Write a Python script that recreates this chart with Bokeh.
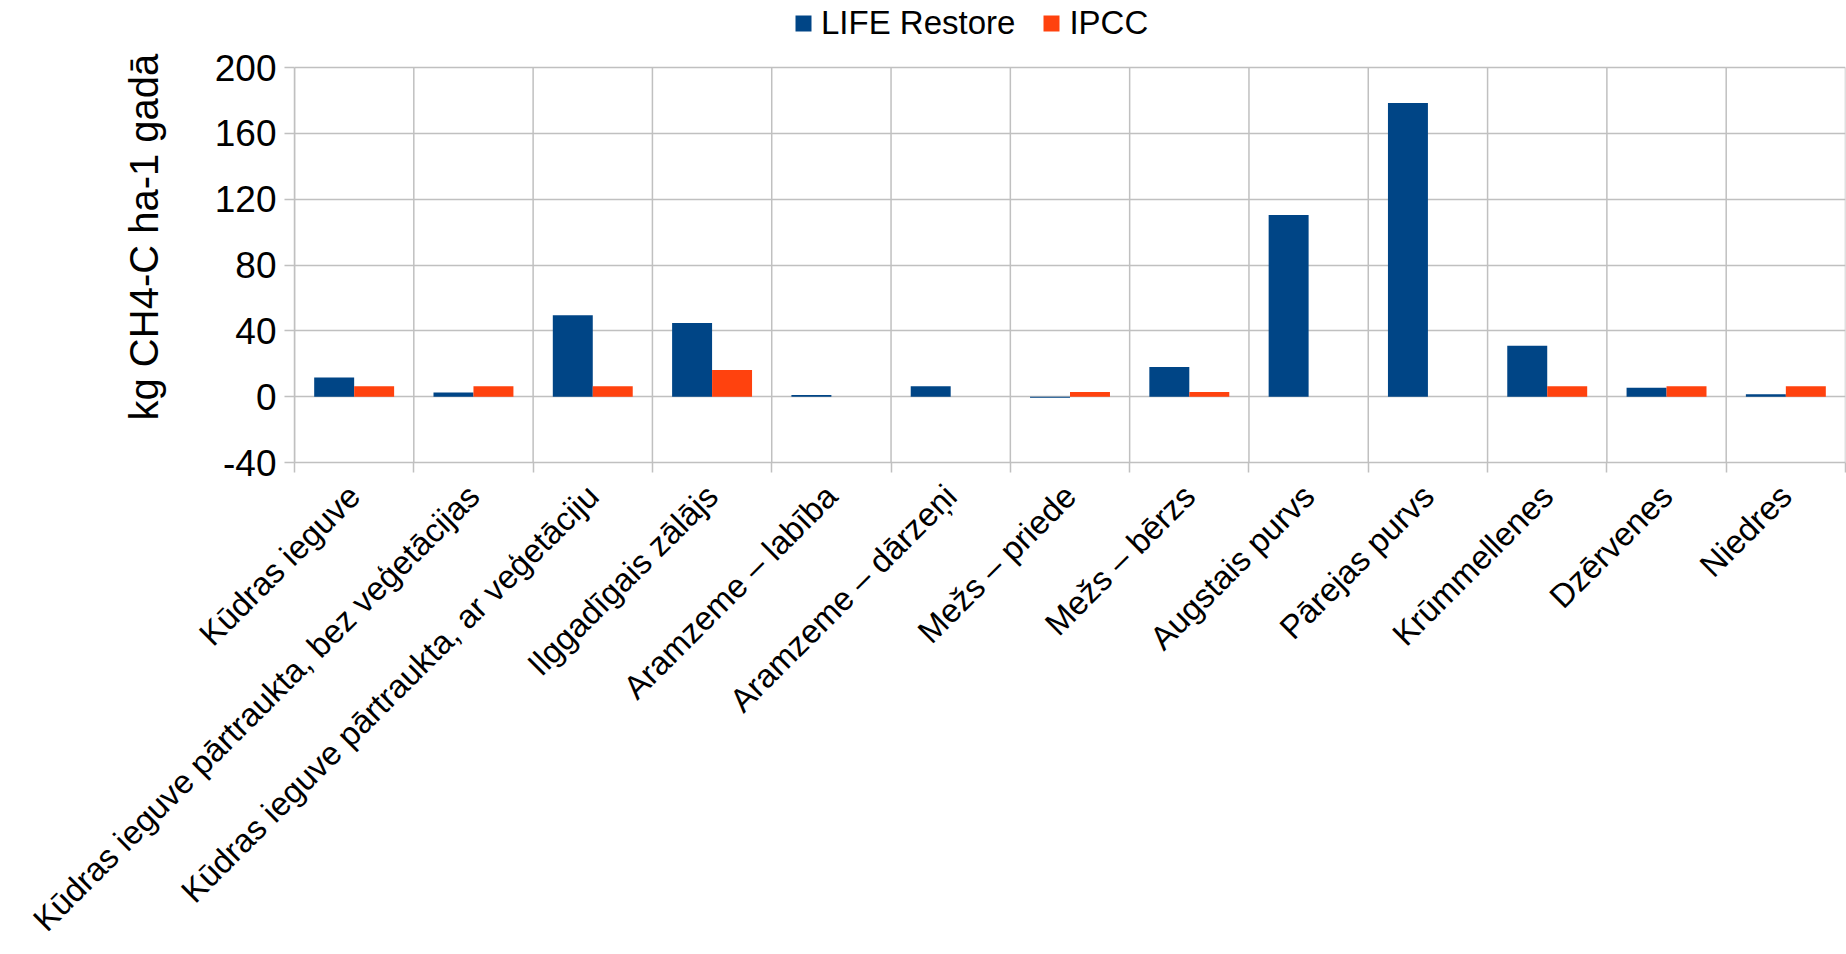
import math
import numpy as np
from bokeh.plotting import figure
from bokeh.models import Range1d, FixedTicker, Legend, LegendItem, Title
from bokeh.embed import file_html
from bokeh.resources import INLINE

categories = [
    "Kūdras ieguve",
    "Kūdras ieguve pārtraukta, bez veģetācijas",
    "Kūdras ieguve pārtraukta, ar veģetāciju",
    "Ilggadīgais zālājs",
    "Aramzeme – labība",
    "Aramzeme – dārzeņi",
    "Mežs – priede",
    "Mežs – bērzs",
    "Augstais purvs",
    "Pārejas purvs",
    "Krūmmellenes",
    "Dzērvenes",
    "Niedres",
]
life_restore = [11.7, 2.6, 49.5, 44.8, 1.0, 6.4, -0.6, 18.0, 110.4, 178.4, 31.0, 5.4, 1.5]
ipcc = [6.3, 6.3, 6.3, 16.2, np.nan, np.nan, 2.8, 2.8, np.nan, np.nan, 6.3, 6.3, 6.3]
y_ticks = [-40, 0, 40, 80, 120, 160, 200]
y_tick_labels = ["-40", "0", "40", "80", "120", "160", "200"]
series_names = ["LIFE Restore", "IPCC"]
y_title = "kg CH4-C ha-1 gadā"
colors = ["#004586", "#ff420e"]

FONT = "Liberation Sans"
GRID = "#c0c0c0"

# layout (pixels)
H, W = 954, 1846
FRAME_BOTTOM = 462          # canvas y of the -40 line
PLOT_TOP = 67               # canvas y of the 200 line
n = len(categories)
idx = np.arange(n)
centers = (idx + 0.5).tolist()
boundaries = list(range(n + 1))
bw = 0.335

# frame spans from canvas top to the -40 line, leaving room for the legend
ymin, ymax = y_ticks[0], y_ticks[-1]
px_per_unit = (FRAME_BOTTOM - PLOT_TOP) / (ymax - ymin)
y_end = ymin + FRAME_BOTTOM / px_per_unit

p = figure(width=W, height=H, output_backend="svg", toolbar_location=None,
           x_range=Range1d(0, n), y_range=Range1d(ymin, y_end),
           min_border_left=294, min_border_right=1, min_border_top=0,
           min_border_bottom=H - FRAME_BOTTOM)
p.outline_line_color = None
p.background_fill_color = "white"

# vertical grid lines between categories, limited to the value range
p.segment(x0=boundaries, y0=ymin, x1=boundaries, y1=ymax,
          line_color=GRID, line_width=1.5)

r1 = p.vbar(x=idx + 0.5 - bw / 2, top=life_restore, bottom=0, width=bw,
            fill_color=colors[0], line_color=None)
r2 = p.vbar(x=idx + 0.5 + bw / 2, top=ipcc, bottom=0, width=bw,
            fill_color=colors[1], line_color=None)

# y axis
p.yaxis.ticker = FixedTicker(ticks=y_ticks)
p.yaxis.bounds = (ymin, ymax)
p.yaxis.major_label_overrides = {t: s for t, s in zip(y_ticks, y_tick_labels)}
p.yaxis.major_label_text_font = FONT
p.yaxis.major_label_text_font_size = "37px"
p.yaxis.major_label_text_color = "black"
p.yaxis.major_label_standoff = 8
p.yaxis.axis_line_color = GRID
p.yaxis.axis_line_width = 1.5
p.yaxis.major_tick_line_color = GRID
p.yaxis.major_tick_line_width = 1.5
p.yaxis.major_tick_out = 10
p.yaxis.major_tick_in = 0
p.yaxis.minor_tick_line_color = None

p.add_layout(Title(text=y_title, align="left", offset=42, standoff=92,
                   text_font=FONT, text_font_size="40px",
                   text_font_style="normal", text_color="black"), "left")

# x axis
p.xaxis.ticker = FixedTicker(ticks=centers, minor_ticks=boundaries)
p.xaxis.major_label_overrides = {c: name for c, name in zip(centers, categories)}
p.xaxis.major_label_orientation = math.pi / 4
p.xaxis.major_label_text_font = FONT
p.xaxis.major_label_text_font_size = "33px"
p.xaxis.major_label_text_color = "black"
p.xaxis.major_label_standoff = 18
p.xaxis.major_tick_line_color = None
p.xaxis.major_tick_out = 6
p.xaxis.minor_tick_line_color = GRID
p.xaxis.minor_tick_line_width = 1.5
p.xaxis.minor_tick_out = 10
p.xaxis.minor_tick_in = 0
p.xaxis.axis_line_color = GRID
p.xaxis.axis_line_width = 1.5

# grids
p.xgrid.grid_line_color = None
p.ygrid.ticker = FixedTicker(ticks=y_ticks)
p.ygrid.grid_line_color = GRID
p.ygrid.grid_line_width = 1.5

legend = Legend(items=[LegendItem(label=series_names[0], renderers=[r1]),
                       LegendItem(label=series_names[1], renderers=[r2])],
                orientation="horizontal", location=(499, FRAME_BOTTOM - 42),
                glyph_width=20, glyph_height=20, label_standoff=8, spacing=26,
                padding=0, margin=0, border_line_color=None,
                background_fill_alpha=0,
                label_text_font=FONT, label_text_font_size="33px",
                label_text_color="black")
p.add_layout(legend, "center")

open("out.html", "w").write(file_html(p, INLINE))
